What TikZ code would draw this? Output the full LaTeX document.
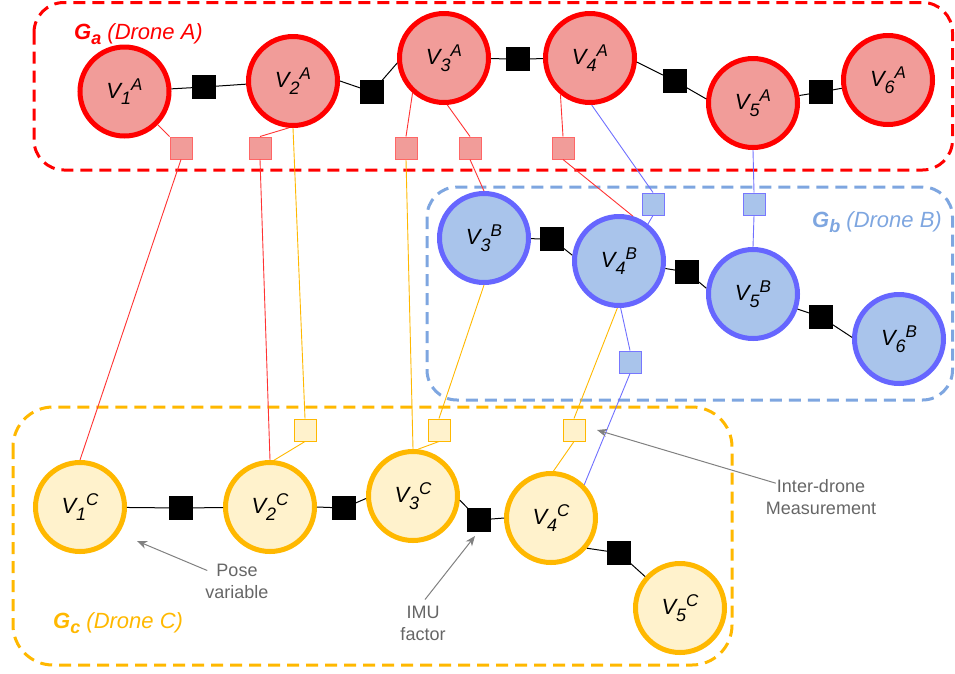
\documentclass[tikz,border=0pt]{standalone}
\usepackage{fontspec}
\setmainfont{Liberation Sans}
\usetikzlibrary{arrows.meta}

\definecolor{redS}{HTML}{FF0000}
\definecolor{redF}{HTML}{F19C99}
\definecolor{redL}{HTML}{FF3333}
\definecolor{redQ}{HTML}{FF6666}
\definecolor{blueS}{HTML}{6666FF}
\definecolor{blueF}{HTML}{A9C4EB}
\definecolor{blueL}{HTML}{7070FF}
\definecolor{blueQ}{HTML}{7777FF}
\definecolor{blueD}{HTML}{7EA6E0}
\definecolor{yelS}{HTML}{FFB800}
\definecolor{yelF}{HTML}{FFF2CC}
\definecolor{annot}{HTML}{666666}
\definecolor{annotL}{HTML}{808080}

% pose variable label: V with index below and drone letter above
\newcommand{\pvar}[2]{\fontsize{22}{26}\selectfont\itshape V\raisebox{-0.3em}{\fontsize{18}{18}\selectfont #1}\raisebox{0.36em}{\fontsize{17}{17}\selectfont #2}}
% graph title: bold G with subscript, then the drone name
\newcommand{\gtitle}[2]{\fontsize{22}{26}\selectfont\itshape{\bfseries G\raisebox{-0.25em}{\fontsize{18}{18}\selectfont #1}} (Drone #2)}

\tikzset{
  pose/.style={circle, inner sep=0pt, minimum size=89pt, line width=5pt},
  poseA/.style={pose, draw=redS, fill=redF},
  poseB/.style={pose, draw=blueS, fill=blueF},
  poseC/.style={pose, draw=yelS, fill=yelF},
  imufac/.style={rectangle, fill=black, draw=black, line width=0.5pt, minimum size=23pt, inner sep=0pt},
  meas/.style={rectangle, minimum size=22pt, inner sep=0pt, line width=1pt},
  measA/.style={meas, draw=redQ, fill=redF},
  measB/.style={meas, draw=blueQ, fill=blueF},
  measC/.style={meas, draw=yelS, fill=yelF},
  odom/.style={draw=black, line width=1pt},
  linkA/.style={draw=redL, line width=0.9pt},
  linkB/.style={draw=blueL, line width=0.9pt},
  linkC/.style={draw=yelS, line width=0.9pt},
  grp/.style={line width=3pt, dash pattern=on 12pt off 7pt},
  note/.style={text=annot, font=\fontsize{18}{22}\selectfont, align=center, inner sep=0pt},
  notearrow/.style={draw=annotL, line width=1pt, -{Stealth[length=10pt,width=8pt,inset=3pt]}},
}

\begin{document}
\begin{tikzpicture}[x=1pt,y=-1pt]
\useasboundingbox (0,0) rectangle (955,673);

% dashed group frames
\draw[grp, draw=redS, rounded corners=30pt] (34,2.5) rectangle (952.5,170);
\draw[grp, draw=blueD, rounded corners=30pt] (427,187) rectangle (952.5,400);
\draw[grp, draw=yelS, rounded corners=40pt] (13,407) rectangle (732,665);

% group titles
\node[anchor=base west, inner sep=0pt, text=redS] (ga) at (74,39) {\gtitle{a}{A}};
\node[anchor=base west, inner sep=0pt, text=blueD] (gb) at (812,227) {\gtitle{b}{B}};
\node[anchor=base west, inner sep=0pt, text=yelS] (gc) at (53,628) {\gtitle{c}{C}};

% drone A
\node[poseA] (V1A) at (124.5,91.5) {\pvar{1}{A}};
\node[poseA] (V2A) at (293,81) {\pvar{2}{A}};
\node[poseA] (V3A) at (444,58) {\pvar{3}{A}};
\node[poseA] (V4A) at (590,58) {\pvar{4}{A}};
\node[poseA] (V5A) at (753,103) {\pvar{5}{A}};
\node[poseA] (V6A) at (888,80) {\pvar{6}{A}};
\node[imufac] (fA1) at (204,87) {};
\node[imufac] (fA2) at (372,92) {};
\node[imufac] (fA3) at (518,59) {};
\node[imufac] (fA4) at (675,81) {};
\node[imufac] (fA5) at (821,92) {};
\node[measA] (qA1) at (181,148) {};
\node[measA] (qA2) at (260,148) {};
\node[measA] (qA3) at (406,148) {};
\node[measA] (qA4) at (470,148) {};
\node[measA] (qA5) at (563,148) {};

% drone B
\node[poseB] (V3B) at (484,238) {\pvar{3}{B}};
\node[poseB] (V4B) at (619,261) {\pvar{4}{B}};
\node[poseB] (V5B) at (753,294) {\pvar{5}{B}};
\node[poseB] (V6B) at (899,339) {\pvar{6}{B}};
\node[imufac] (fB1) at (552,239) {};
\node[imufac] (fB2) at (687,272) {};
\node[imufac] (fB3) at (821,317) {};
\node[measB] (qB1) at (653,204) {};
\node[measB] (qB2) at (754,204) {};
\node[measB] (qB3) at (630,362) {};

% drone C
\node[poseC] (V1C) at (80,507) {\pvar{1}{C}};
\node[poseC] (V2C) at (270,507) {\pvar{2}{C}};
\node[poseC] (V3C) at (413,496) {\pvar{3}{C}};
\node[poseC] (V4C) at (551,518) {\pvar{4}{C}};
\node[poseC] (V5C) at (680,608) {\pvar{5}{C}};
\node[imufac] (fC1) at (181,508) {};
\node[imufac] (fC2) at (344,508) {};
\node[imufac] (fC3) at (479,520) {};
\node[imufac] (fC4) at (619,553) {};
\node[measC] (qC1) at (305,430) {};
\node[measC] (qC2) at (439,430) {};
\node[measC] (qC3) at (574,430) {};

% IMU chains
\draw[odom] (V1A) -- (fA1) -- (V2A);
\draw[odom] (V2A.east) -- (fA2) -- (V3A.186);
\draw[odom] (V3A) -- (fA3) -- (V4A);
\draw[odom] (V4A.-5) -- (fA4) -- (V5A.175);
\draw[odom] (V5A) -- (fA5) -- (V6A);
\draw[odom] (V3B) -- (fB1) -- (V4B.173);
\draw[odom] (V4B) -- (fB2) -- (V5B.173);
\draw[odom] (V5B) -- (fB3) -- (V6B.178);
\draw[odom] (V1C) -- (fC1) -- (V2C);
\draw[odom] (V2C.east) -- (fC2) -- (V3C.183);
\draw[odom] (V3C.-5) -- (fC3) -- (V4C.west);
\draw[odom] (V4C.-40) -- (fC4) -- (V5C);

% inter-drone measurements seen by drone A
\draw[linkA] (V1A) -- (qA1);
\draw[linkA] (qA1.south) -- (V1C.north);
\draw[linkA] (V2A.265) -- (qA2.north);
\draw[linkA] (qA2.south) -- (V2C.north);
\draw[linkA] (V3A.228) -- (qA3.north);
\draw[linkC] (qA3.south) -- (V3C.north);
\draw[linkA] (V3A.-86) -- (qA4.north);
\draw[linkA] (qA4.south) -- (V3B.north);
\draw[linkA] (V4A.231) -- (qA5.north);
\draw[linkA] (qA5.south) -- (V4B.73);

% inter-drone measurements seen by drone B
\draw[linkB] (V4A.-88) -- (qB1.north);
\draw[linkB] (qB1.south) -- (V4B.52);
\draw[linkB] (V5A.south) -- (qB2.north);
\draw[linkB] (qB2.south) -- (V5B.north);
\draw[linkB] (V4B.-88) -- (qB3.north);
\draw[linkB] (qB3.south) -- (V4C.45);

% inter-drone measurements seen by drone C
\draw[linkC] (V2A.south) -- (qC1.north);
\draw[linkC] (qC1.south) -- (V2C.85);
\draw[linkC] (V3B.south) -- (qC2.north);
\draw[linkC] (qC2.south) -- (V3C.84);
\draw[linkC] (V4B.-92) -- (qC3.north);
\draw[linkC] (qC3.south) -- (V4C.87);

% annotations
\node[note] (poseN) at (237,581) {Pose\\variable};
\node[note] (imuN) at (423,623) {IMU\\factor};
\node[note] (interN) at (821,497) {Inter-drone\\Measurement};
\coordinate (poseTip) at (137,541);
\coordinate (imuTip) at (475,536);
\coordinate (interTip) at (597,430);
\draw[notearrow] ([shift={(2,7)}]poseN.north west) -- (poseTip);
\draw[notearrow] ([shift={(2,-6)}]imuN.north) -- (imuTip);
\draw[notearrow] ([shift={(10,4)}]interN.north west) -- (interTip);
\end{tikzpicture}
\end{document}
